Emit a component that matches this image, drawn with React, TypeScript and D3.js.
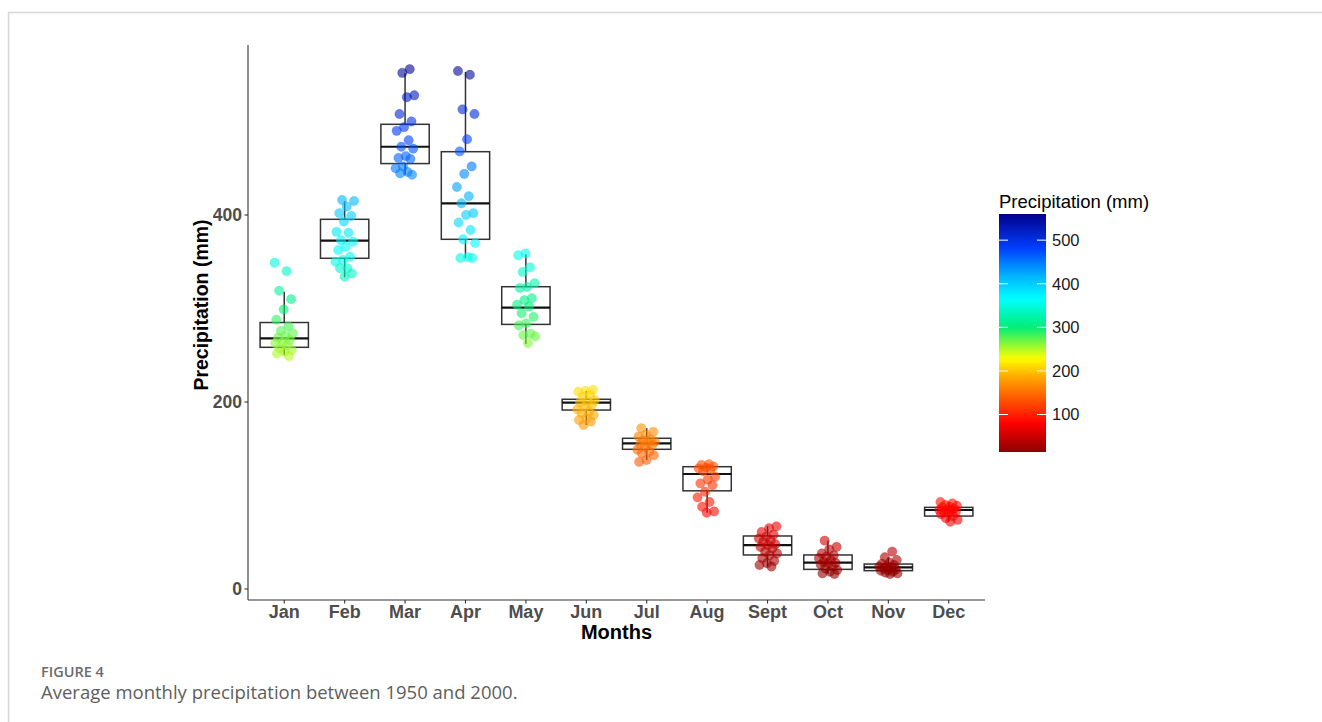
import React from "react";
import * as d3 from "d3";

// months and box statistics (mm)
const months = ["Jan", "Feb", "Mar", "Apr", "May", "Jun", "Jul", "Aug", "Sept", "Oct", "Nov", "Dec"];
const q1 = [258.5, 353.7, 455, 374, 283, 191.4, 149.4, 105, 36.4, 21, 19.6, 78];
const median = [268, 372.5, 473, 412.5, 301, 199.3, 155.8, 123, 47, 28.2, 23.2, 84.5];
const q3 = [285, 395.4, 497, 467.7, 323.3, 202.9, 161.2, 130.8, 56.7, 36.4, 26.7, 87.3];
const whiskerLo = [250, 333.4, 443, 353.7, 262, 175.4, 138, 81.6, 23.9, 16, 16, 72];
const whiskerHi = [318, 414.6, 551.5, 553, 358, 212, 172, 133.4, 67.4, 51.7, 33.8, 93.4];

// yearly values per month (jittered points)
const janValues = [349, 340, 319, 310, 299, 288, 281, 276, 273.5, 270.6, 268.8, 266.3, 264, 262.8, 261, 257.4, 255.6, 253.8, 252, 249];
const febValues = [416, 415, 409, 402, 399, 393, 382, 381, 373, 371.5, 366, 362.6, 355.4, 352, 350, 343, 343, 337.6, 334];
const marValues = [556, 552, 528, 526, 508, 500, 494, 490, 480, 473, 471, 463, 461, 460, 452, 450, 446, 444.5, 443];
const aprValues = [554, 550, 513, 508, 481, 468, 452, 444, 430, 420, 412.5, 402, 400, 392, 384, 374, 370, 355, 354, 354];
const mayValues = [359, 357, 344, 339, 327, 323, 322, 311, 309, 304, 302, 295, 291, 284, 282, 273, 271.5, 270, 263];
const junValues = [213, 212, 211, 207.5, 205.7, 202, 200.4, 199.6, 197, 195, 192, 189.6, 188, 186, 182.6, 180.7, 179, 175.4];
const julValues = [172, 168, 165, 163, 160, 159, 157.6, 156, 155, 154, 152, 149, 147, 145, 143, 138, 136];
const augValues = [133.4, 132.6, 131, 130, 129, 128, 126, 120, 117, 113, 111, 104, 98, 93, 88, 83, 81.6];
const septValues = [67, 65, 61, 58, 56, 54, 52, 50.6, 48, 47, 45, 43.5, 40, 38, 36.4, 33, 30, 27.5, 25.7, 24];
const octValues = [51.7, 45, 42.4, 38, 36, 34.6, 33, 31, 29, 28, 27.5, 26, 24, 22, 20.3, 18.5, 16.7, 16];
const novValues = [40, 34, 31, 28, 27, 25.7, 24.5, 24, 23, 22, 21, 20.3, 19.5, 18.5, 17.5, 16.7, 16];
const decValues = [93, 91.6, 90, 89, 88, 87.3, 86, 85.2, 84.5, 84, 83, 82.7, 81, 80, 78, 76, 74, 72];

const monthValues = [janValues, febValues, marValues, aprValues, mayValues, junValues,
  julValues, augValues, septValues, octValues, novValues, decValues];

const yTicks = [0, 200, 400];
const legendTicks = [100, 200, 300, 400, 500];

// colour gradient stops (value -> colour)
const colorStops = [14, 80, 185, 228, 300, 365, 420, 480, 560];
const colorRange = ["#8b0000", "#ff0000", "#ffa500", "#ffff00", "#00ee76", "#00ffff", "#00b0ff", "#0040ff", "#00008b"];

const axisFont = "'Liberation Sans', Arial, sans-serif";

export default function App() {
  const x = d3.scalePoint<string>().domain(months).range([248, 985]).padding(0.6);
  const step = x.step();
  const y = d3.scaleLinear().domain([0, 200]).range([589, 402]);
  const color = d3.scaleLinear<string>().domain(colorStops).range(colorRange).clamp(true);
  const legendY = d3.scaleLinear().domain([14, 560]).range([452, 214]);

  const boxW = step * 0.8;
  const jitterW = step * 0.32;

  const gradStops = d3.range(0, 1.0001, 0.02).map((t) => ({
    offset: t,
    c: color(14 + t * (560 - 14)),
  }));

  return (
    <svg width={1322} height={722} style={{ position: "absolute", left: 0, top: 0, background: "#fff" }}>
      <defs>
        <linearGradient id="legendGrad" x1="0" y1="1" x2="0" y2="0">
          {gradStops.map((s, i) => (
            <stop key={i} offset={s.offset} stopColor={s.c} />
          ))}
        </linearGradient>
      </defs>

      {/* card frame */}
      <line x1={8} y1={12.5} x2={1322} y2={12.5} stroke="#d6d6d6" strokeWidth={1.5} />
      <line x1={8.5} y1={12} x2={8.5} y2={722} stroke="#d6d6d6" strokeWidth={1.5} />

      {/* boxes */}
      {months.map((m, i) => {
        const cx = x(m)!;
        return (
          <g key={m}>
            <line x1={cx} x2={cx} y1={y(q3[i])} y2={y(whiskerHi[i])} stroke="#333" strokeWidth={1.5} />
            <line x1={cx} x2={cx} y1={y(q1[i])} y2={y(whiskerLo[i])} stroke="#333" strokeWidth={1.5} />
            <rect x={cx - boxW / 2} y={y(q3[i])} width={boxW} height={y(q1[i]) - y(q3[i])}
              fill="#fff" stroke="#333" strokeWidth={1.5} />
            <line x1={cx - boxW / 2} x2={cx + boxW / 2} y1={y(median[i])} y2={y(median[i])}
              stroke="#111" strokeWidth={2.2} />
          </g>
        );
      })}

      {/* jittered points */}
      {monthValues.map((vals, mi) =>
        vals.map((v, i) => {
          const off = (((i * 0.618034 + mi * 0.37) % 1) - 0.5) * jitterW;
          return (
            <circle key={`${mi}-${i}`} cx={x(months[mi])! + off} cy={y(v)} r={4.7}
              fill={color(v)} fillOpacity={0.6} stroke={color(v)} strokeOpacity={0.4} strokeWidth={0.6} />
          );
        })
      )}

      {/* axes */}
      <line x1={248} x2={248} y1={45} y2={600} stroke="#333" strokeWidth={1.1} />
      <line x1={248} x2={985} y1={600} y2={600} stroke="#333" strokeWidth={1.1} />
      {yTicks.map((t) => (
        <g key={t}>
          <line x1={244.5} x2={248} y1={y(t)} y2={y(t)} stroke="#333" strokeWidth={1.1} />
          <text x={242} y={y(t)} dy="0.36em" textAnchor="end" fontFamily={axisFont}
            fontWeight="bold" fontSize={17.5} fill="#4d4d4d">{t}</text>
        </g>
      ))}
      {months.map((m) => (
        <g key={m}>
          <line x1={x(m)} x2={x(m)} y1={600} y2={603.5} stroke="#333" strokeWidth={1.1} />
          <text x={x(m)} y={612} dy="0.36em" textAnchor="middle" fontFamily={axisFont}
            fontWeight="bold" fontSize={18} fill="#4d4d4d">{m}</text>
        </g>
      ))}
      <text x={616.5} y={632} dy="0.36em" textAnchor="middle" fontFamily={axisFont}
        fontWeight="bold" fontSize={20} fill="#000">Months</text>
      <text transform="translate(201,305) rotate(-90)" dy="0.36em" textAnchor="middle"
        fontFamily={axisFont} fontWeight="bold" fontSize={19.5} fill="#000">Precipitation (mm)</text>

      {/* colour legend */}
      <text x={999} y={201} dy="0.36em" fontFamily={axisFont} fontSize={18.5} fill="#000">Precipitation (mm)</text>
      <rect x={999} y={214} width={47} height={238} fill="url(#legendGrad)" />
      {legendTicks.map((t) => (
        <g key={t}>
          <line x1={999} x2={1008} y1={legendY(t)} y2={legendY(t)} stroke="#fff" strokeWidth={1} />
          <line x1={1037} x2={1046} y1={legendY(t)} y2={legendY(t)} stroke="#fff" strokeWidth={1} />
          <text x={1052} y={legendY(t)} dy="0.36em" fontFamily={axisFont} fontSize={16.5} fill="#1a1a1a">{t}</text>
        </g>
      ))}

      {/* caption */}
      <text x={41} y={677} fontFamily="'Open Sans', sans-serif" fontSize={14.5} fontWeight={600} fill="#6b6b6b">FIGURE 4</text>
      <text x={41} y={699} fontFamily="'Open Sans', sans-serif" fontSize={18.5} fill="#5e5e5e">Average monthly precipitation between 1950 and 2000.</text>
    </svg>
  );
}
